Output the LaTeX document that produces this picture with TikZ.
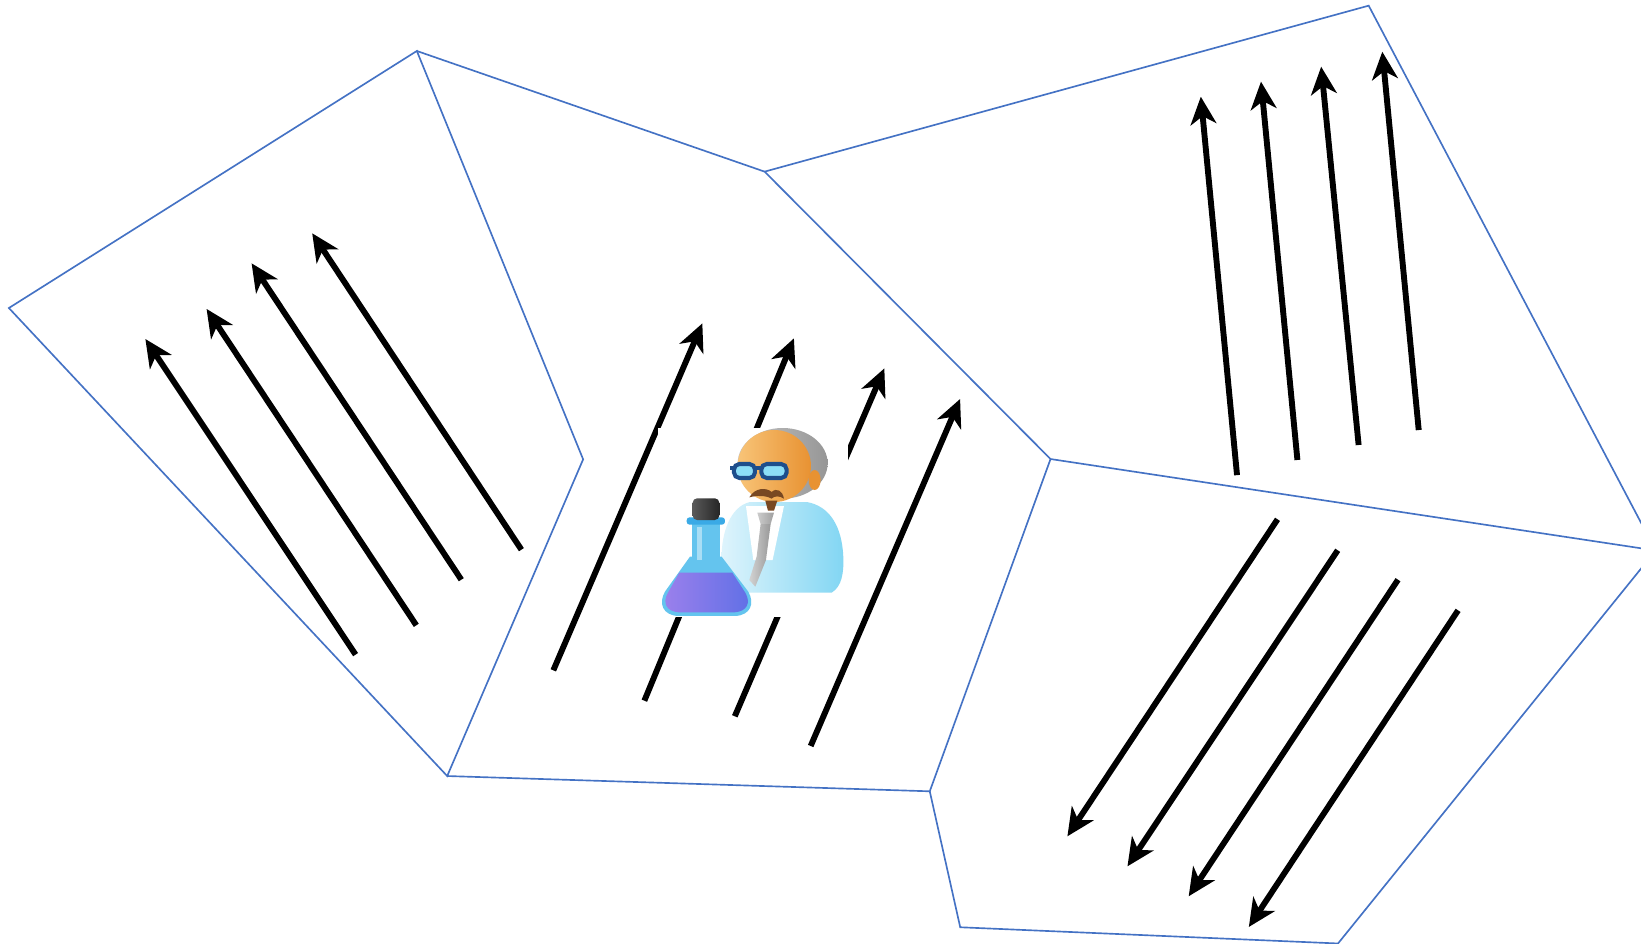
\documentclass[tikz,border=0pt]{standalone}
\usetikzlibrary{arrows.meta}
\definecolor{cellblue}{RGB}{68,114,196}
\definecolor{coatlight}{RGB}{222,244,252}
\definecolor{coatblue}{RGB}{130,214,243}
\definecolor{skinlight}{RGB}{248,196,120}
\definecolor{skindark}{RGB}{232,146,50}
\definecolor{hairgrey}{RGB}{150,150,150}
\definecolor{lensblue}{RGB}{140,222,247}
\definecolor{framedark}{RGB}{30,78,140}
\definecolor{beardbrown}{RGB}{120,72,34}
\definecolor{flaskblue}{RGB}{100,196,238}
\definecolor{rimblue}{RGB}{58,170,230}
\definecolor{liquidlight}{RGB}{156,128,236}
\definecolor{liquiddark}{RGB}{96,112,230}

\begin{document}
\begin{tikzpicture}[x=0.1mm,y=-0.1mm]
\tikzstyle{cell}=[draw=cellblue, line width=0.45pt, line join=miter]
\tikzstyle{flow}=[-{Stealth[length=7.5pt,width=7pt,inset=2.2pt]}, line width=1.6pt]

\useasboundingbox (0,0) rectangle (1568,902);
\clip (0,0) rectangle (1568,902);

\coordinate (p1) at (8.5,294.3);
\coordinate (p2) at (398.3,48.7);
\coordinate (p3) at (557.2,438.9);
\coordinate (p4) at (427.3,741.5);
\coordinate (p5) at (730.6,164);
\coordinate (p6) at (1003.8,438.6);
\coordinate (p7) at (888.4,756.1);
\coordinate (p8) at (1307.8,5.4);
\coordinate (p9) at (1582,526);
\coordinate (p10) at (1278.5,901.5);
\coordinate (p11) at (917.5,886);

\draw[cell] (p1) -- (p2) -- (p3) -- (p4) -- cycle;
\draw[cell] (p2) -- (p5) -- (p6) -- (p7) -- (p4);
\draw[cell] (p5) -- (p8) -- (p9) -- (p6);
\draw[cell] (p9) -- (p10) -- (p11) -- (p7);

\foreach \n/\x/\y/\u/\v in {
  l1/339.8/625.5/138.9/323.9, l2/397.8/597.5/197.4/295.2,
  l3/440.8/553.9/240.4/251.6, l4/498.2/525.2/298.3/222.9,
  m1/528.7/640.5/671.1/309, m2/615.7/669.5/758.6/323.3,
  m3/702.1/684.4/845/352, m4/774.6/712.8/917.4/381.2,
  t1/1182/454/1147.4/92.4, t2/1239.7/439.5/1204.9/78,
  t3/1298.2/425.2/1262.4/63.7, t4/1355.6/410.9/1320.8/49.4,
  b1/1220.7/496.2/1019.9/799.1, b2/1278.2/525.8/1077.3/827.8,
  b3/1335.8/553.9/1135.8/856.4, b4/1393.2/583.2/1193.3/885.7} {
  \coordinate (\n a) at (\x,\y);
  \coordinate (\n b) at (\u,\v);
  \draw[flow] (\n a) -- (\n b);
}

\begin{scope}[shift={(611.5,382.2)}, scale=0.3185]
\fill[white] (54,85) rectangle (624,651);
\shade[left color=coatlight, right color=coatblue]
  (262,578) -- (575,578) .. controls (605,560) and (612,520) .. (610,470)
  .. controls (606,380) and (570,318) .. (500,306) -- (330,306)
  .. controls (270,320) and (245,400) .. (245,470) -- (245,555)
  .. controls (245,572) .. (262,578) -- cycle;
\fill[white] (318,318) -- (432,318) -- (398,480) -- (340,480) -- cycle;
\shade[left color=gray!40, right color=gray!75]
  (352,338) -- (402,338) -- (392,372) -- (362,372) -- cycle;
\shade[left color=gray!35, right color=gray!80]
  (362,372) -- (392,372) -- (378,480) -- (346,560) -- (328,540) -- (350,470) -- cycle;
\shade[left color=hairgrey!55, right color=hairgrey] (428,190) ellipse (135 and 106);
\shade[left color=skinlight, right color=skindark] (403,198) ellipse (110 and 108);
\fill[skindark] (524,240) ellipse (18 and 30);
\fill[beardbrown] (328,292) .. controls (345,262) and (380,262) .. (395,276)
  .. controls (410,262) and (428,272) .. (432,296)
  .. controls (418,286) and (402,288) .. (395,296)
  .. controls (378,286) and (350,286) .. (328,292) -- cycle;
\fill[beardbrown] (376,302) -- (412,302) -- (402,332) -- (384,332) -- cycle;
\draw[framedark, line width=1.1pt, fill=lensblue, rounded corners=1.5pt]
  (282,192) rectangle (345,234);
\draw[framedark, line width=1.1pt, fill=lensblue, rounded corners=1.5pt]
  (364,192) rectangle (440,234);
\draw[framedark, line width=1.1pt] (345,205) -- (364,205) (282,203) -- (270,203);
\fill[flaskblue] (150,470) -- (245,470) -- (325,575)
  .. controls (345,610) and (332,646) .. (285,648) -- (115,648)
  .. controls (68,646) and (55,610) .. (75,575) -- cycle;
\shade[left color=liquidlight, right color=liquiddark]
  (118,518) -- (277,518) -- (316,578)
  .. controls (333,608) and (322,634) .. (284,637) -- (116,637)
  .. controls (78,634) and (67,608) .. (84,578) -- cycle;
\fill[flaskblue] (155,365) rectangle (240,482);
\fill[white, opacity=0.45] (172,380) rectangle (186,480);
\fill[rimblue, rounded corners=0.8pt] (140,352) rectangle (255,374);
\shade[left color=gray!70!black, right color=black!85, rounded corners=1.2pt]
  (158,295) rectangle (238,360);
\end{scope}
\end{tikzpicture}
\end{document}
